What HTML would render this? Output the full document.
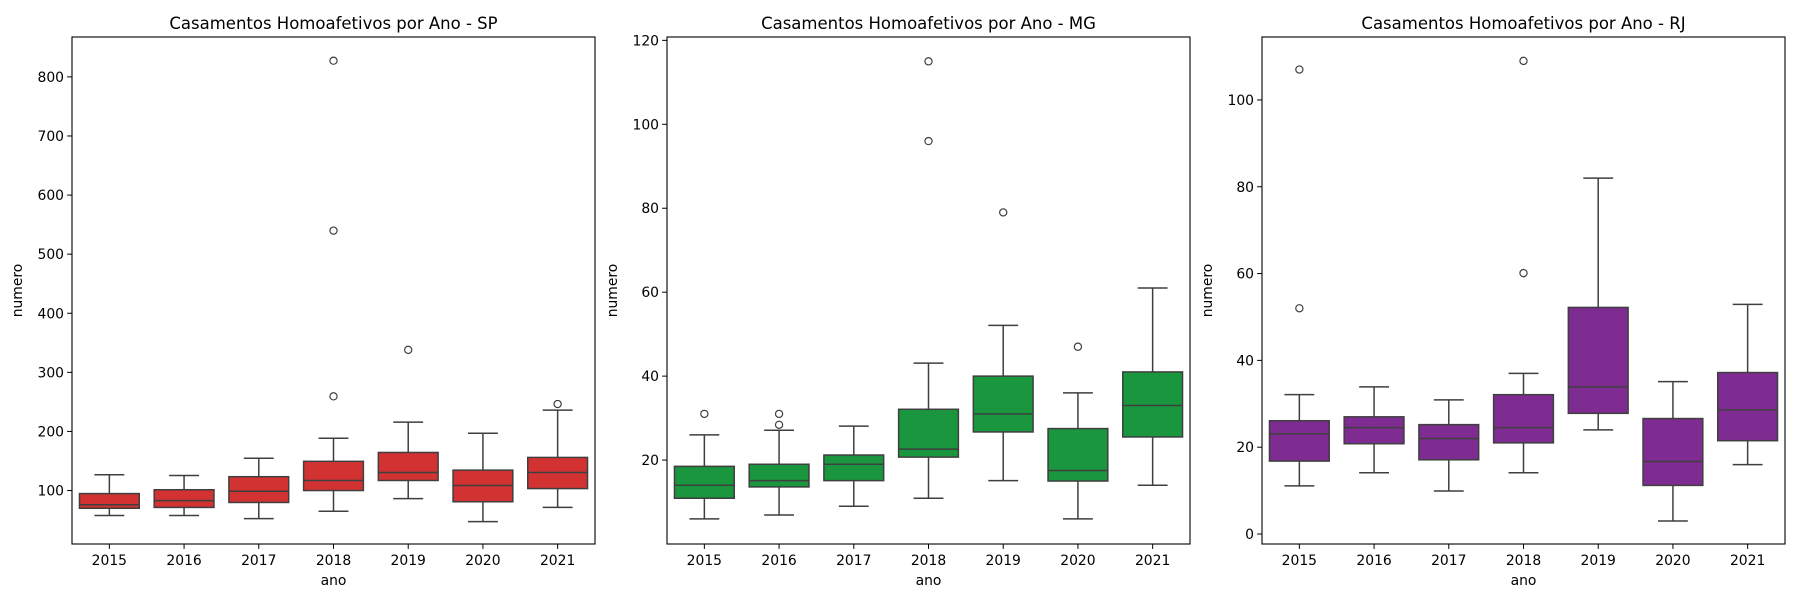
<!DOCTYPE html>
<html><head><meta charset="utf-8">
<style>
html,body{margin:0;padding:0;background:#fff;}
svg{display:block;font-family:"DejaVu Sans","Liberation Sans",sans-serif;}
</style></head>
<body>
<svg id="fig" width="1800" height="600" viewBox="0 0 1800 600" xmlns="http://www.w3.org/2000/svg"></svg>
<script>
const categories = ["2015","2016","2017","2018","2019","2020","2021"];
// [low whisker, q1, median, q3, high whisker]
const spStats = [[57.7,70,76,94.8,126.7],[57.7,71.4,83,101.3,125.4],[52.5,79.8,98.7,123.4,154.7],[64.9,100,117,149.4,188.5],[86.3,117,130.6,164.4,215.8],[47.3,81,108.5,134.5,197],[71.4,103.3,130.6,156,236]];
const spOutliers = [[],[],[],[259.4,539.8,827.4],[338],[],[246.4]];
const spTicks = [100,200,300,400,500,600,700,800];
const mgStats = [[6,10.9,14,18.5,26],[6.9,13.6,15.1,19,27.1],[9,15.1,19,21.2,28.1],[10.9,20.7,22.6,32.1,43.1],[15.1,26.7,31,40,52.1],[6,15,17.5,27.5,36],[14,25.5,33,41,61]];
const mgOutliers = [[31],[28.4,31],[],[96,115],[79],[47],[]];
const mgTicks = [20,40,60,80,100,120];
const rjStats = [[11.1,16.8,23.1,26.1,32.1],[14.1,20.8,24.5,27,33.9],[9.9,17.1,22,25.2,30.9],[14.1,21,24.5,32.1,37],[24,27.8,33.9,52.2,82],[3,11.2,16.7,26.6,35.1],[16,21.5,28.6,37.2,52.9]];
const rjOutliers = [[52,107],[],[],[60.1,109],[],[],[]];
const rjTicks = [0,20,40,60,80,100];

const NS="http://www.w3.org/2000/svg";
const fig=document.getElementById('fig');
function mk(tag,attrs,parent){const e=document.createElementNS(NS,tag);for(const k in attrs)e.setAttribute(k,attrs[k]);(parent||fig).appendChild(e);return e;}

function panel(key,title,left,ymin,ymax,stats,outs,ticks,fill){
  const top=37,bottom=544,w=523,right=left+w;
  const g=mk('g',{});
  
  
  const y=v=>bottom-(v-ymin)/(ymax-ymin)*(bottom-top);
  const band=w/categories.length;
  const x=i=>left+band*(i+0.5);
  const t=mk('text',{x:left+w/2,y:29,'text-anchor':'middle','font-size':'16.5',fill:'#000'},g);
  t.textContent=title;
  
  
  stats.forEach((s,i)=>{
    const cx=x(i),bw=band*0.8,cw=bw/2;
    const bg=mk('g',{},g);
    
    
    mk('line',{x1:cx,x2:cx,y1:y(s[0]),y2:y(s[1]),stroke:'#3f3f3f','stroke-width':1.5},bg);
    mk('line',{x1:cx,x2:cx,y1:y(s[3]),y2:y(s[4]),stroke:'#3f3f3f','stroke-width':1.5},bg);
    mk('line',{x1:cx-cw/2,x2:cx+cw/2,y1:y(s[0]),y2:y(s[0]),stroke:'#3f3f3f','stroke-width':1.5},bg);
    mk('line',{x1:cx-cw/2,x2:cx+cw/2,y1:y(s[4]),y2:y(s[4]),stroke:'#3f3f3f','stroke-width':1.5},bg);
    mk('rect',{x:cx-bw/2,y:y(s[3]),width:bw,height:y(s[1])-y(s[3]),fill:fill,stroke:'#3f3f3f','stroke-width':1.5},bg);
    mk('line',{x1:cx-bw/2,x2:cx+bw/2,y1:y(s[2]),y2:y(s[2]),stroke:'#3f3f3f','stroke-width':1.5},bg);
    outs[i].forEach(v=>{
      const c=mk('circle',{cx:cx,cy:y(v),r:3.6,fill:'none',stroke:'#3f3f3f','stroke-width':1.2},bg);
      
      
    });
    mk('line',{x1:cx,x2:cx,y1:bottom,y2:bottom+4.9,stroke:'#000','stroke-width':1},g);
    const tl=mk('text',{x:cx,y:bottom+21,'text-anchor':'middle','font-size':'13.9',fill:'#000'},g);
    tl.textContent=categories[i];
    
    
  });
  ticks.forEach(v=>{
    const ty=y(v);
    mk('line',{x1:left-4.9,x2:left,y1:ty,y2:ty,stroke:'#000','stroke-width':1},g);
    const tl=mk('text',{x:left-8,y:ty+5,'text-anchor':'end','font-size':'13.9',fill:'#000'},g);
    tl.textContent=v;
    
    
  });
  const fr=mk('rect',{x:left,y:top,width:w,height:bottom-top,fill:'none',stroke:'#000','stroke-width':1.1},g);
  
  
  const xl=mk('text',{x:left+w/2,y:585,'text-anchor':'middle','font-size':'13.9',fill:'#000'},g);
  xl.textContent='ano';
  
  
  const yx=left-50;
  const yl=mk('text',{x:yx,y:(top+bottom)/2,'text-anchor':'middle','font-size':'13.9',fill:'#000',transform:'rotate(-90 '+yx+' '+(top+bottom)/2+')'},g);
  yl.textContent='numero';
  
  
}
panel('sp','Casamentos Homoafetivos por Ano - SP',72,9.5,867.5,spStats,spOutliers,spTicks,'#d33232');
panel('mg','Casamentos Homoafetivos por Ano - MG',667,0,120.8,mgStats,mgOutliers,mgTicks,'#1a963f');
panel('rj','Casamentos Homoafetivos por Ano - RJ',1262,-2.3,114.5,rjStats,rjOutliers,rjTicks,'#7e2b92');
</script>
</body></html>
